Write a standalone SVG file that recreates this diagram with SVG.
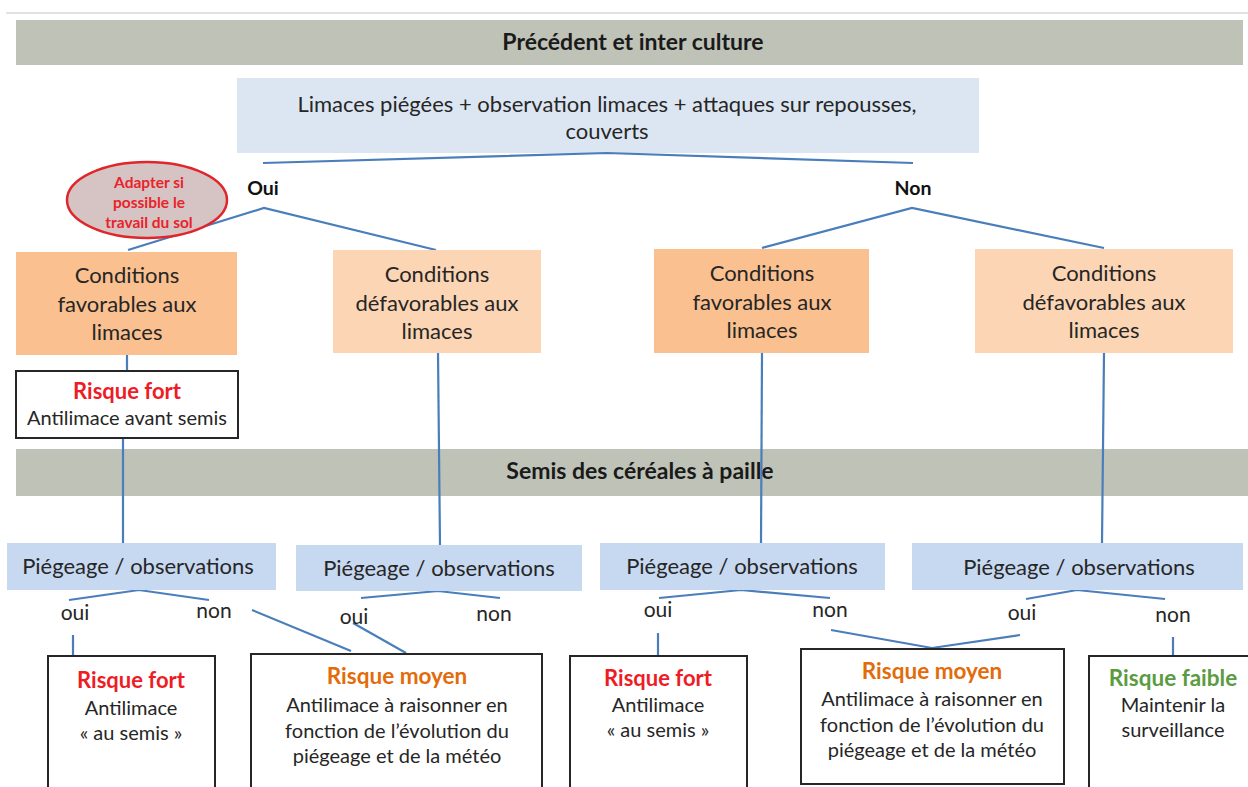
<svg xmlns="http://www.w3.org/2000/svg" width="1248" height="787" viewBox="0 0 1248 787">
<style>
text{font-family:Lato,"Open Sans","Liberation Sans",sans-serif;fill:#262626;text-anchor:middle}
.band{fill:#bfc2b7}
.bt{font-size:23px;font-weight:bold;fill:#1a1a1a}
.top{fill:#dce6f2}
.fav{fill:#fac08f}
.def{fill:#fcd5b4}
.pie{fill:#c6d9f1}
.res{fill:#ffffff;stroke:#262626;stroke-width:2}
.t22{font-size:22px}
.t20{font-size:20px}
.ob{font-size:19.5px;font-weight:bold;fill:#111}
.on{font-size:21px}
.red{fill:#ee1c25;font-weight:bold;font-size:22px}
.ora{fill:#e36c0a;font-weight:bold;font-size:22.5px}
.grn{fill:#5b9b42;font-weight:bold;font-size:22.5px}
.ell{font-size:15.5px;font-weight:bold;fill:#e8232a}
.c{fill:none;stroke:#4a7ebb;stroke-width:2.2}
</style>
<rect width="1248" height="787" fill="#ffffff"/>
<line x1="6" y1="13" x2="1248" y2="13" stroke="#d9d9d9" stroke-width="1.5"/>

<g id="band-precedent">
<rect class="band" x="16" y="20" width="1227" height="45"/>
<text class="bt" x="633" y="50">Précédent et inter culture</text>
</g>

<g id="observation">
<rect class="top" x="237" y="78" width="742" height="75"/>
<text class="t22" x="607" y="112">Limaces piégées + observation limaces + attaques sur repousses,</text>
<text class="t22" x="607" y="139">couverts</text>
</g>

<g id="band-semis">
<rect class="band" x="16" y="449" width="1232" height="47"/>
<text class="bt" x="640" y="479">Semis des céréales à paille</text>
</g>

<g id="connectors">
<path class="c" d="M263,163 L607,153 L913,163"/>
<path class="c" d="M128,250 L264,208 L436,250"/>
<path class="c" d="M762,248 L912,208 L1104,248"/>
<path class="c" d="M127,355 L127,371"/>
<path class="c" d="M123,438 L123,543"/>
<path class="c" d="M438,353 L440,545"/>
<path class="c" d="M762,353 L761,543"/>
<path class="c" d="M1104,353 L1102,543"/>
<path class="c" d="M69,600 L139,590 L209,600"/>
<path class="c" d="M73,635 L73,657"/>
<path class="c" d="M252,610 L351,651"/>
<path class="c" d="M361,598 L438,591 L500,598"/>
<path class="c" d="M353,623 L406,653"/>
<path class="c" d="M659,598 L741,590 L830,598"/>
<path class="c" d="M658,633 L658,655"/>
<path class="c" d="M831,630 L932,648 L1020,635"/>
<path class="c" d="M1026,599 L1077,590 L1165,599"/>
<path class="c" d="M1173,637 L1173,656"/>
</g>

<g id="label-oui"><text class="ob" x="263" y="195">Oui</text></g>
<g id="label-non"><text class="ob" x="913" y="195">Non</text></g>

<g id="adapter">
<ellipse cx="147" cy="200" rx="80" ry="38" fill="#d6c4c4" stroke="#e0262b" stroke-width="2.5"/>
<text class="ell" x="149" y="188">Adapter si</text>
<text class="ell" x="149" y="208">possible le</text>
<text class="ell" x="149" y="228">travail du sol</text>
</g>

<g id="oui-favorable">
<rect class="fav" x="16" y="252" width="221" height="103"/>
<text class="t22" x="127" y="283">Conditions</text>
<text class="t22" x="127" y="312">favorables aux</text>
<text class="t22" x="127" y="340">limaces</text>
</g>

<g id="oui-defavorable">
<rect class="def" x="333" y="250" width="208" height="103"/>
<text class="t22" x="437" y="282">Conditions</text>
<text class="t22" x="437" y="311">défavorables aux</text>
<text class="t22" x="437" y="339">limaces</text>
</g>

<g id="non-favorable">
<rect class="fav" x="654" y="249" width="215" height="104"/>
<text class="t22" x="762" y="281">Conditions</text>
<text class="t22" x="762" y="310">favorables aux</text>
<text class="t22" x="762" y="338">limaces</text>
</g>

<g id="non-defavorable">
<rect class="def" x="975" y="249" width="258" height="104"/>
<text class="t22" x="1104" y="281">Conditions</text>
<text class="t22" x="1104" y="310">défavorables aux</text>
<text class="t22" x="1104" y="338">limaces</text>
</g>

<g id="risque-avant-semis">
<rect class="res" x="16" y="371" width="222" height="67"/>
<text class="red" x="127" y="399">Risque fort</text>
<text class="t20" x="127" y="425">Antilimace  avant semis</text>
</g>

<g id="piegeage-1">
<rect class="pie" x="7" y="543" width="269" height="47"/>
<text class="t22" x="138" y="574">Piégeage / observations</text>
<text class="on" x="75" y="620">oui</text>
<text class="on" x="214" y="618">non</text>
</g>

<g id="piegeage-2">
<rect class="pie" x="296" y="545" width="286" height="46"/>
<text class="t22" x="439" y="576">Piégeage / observations</text>
<text class="on" x="354" y="624">oui</text>
<text class="on" x="494" y="621">non</text>
</g>

<g id="piegeage-3">
<rect class="pie" x="600" y="543" width="285" height="47"/>
<text class="t22" x="742" y="574">Piégeage / observations</text>
<text class="on" x="658" y="617">oui</text>
<text class="on" x="830" y="617">non</text>
</g>

<g id="piegeage-4">
<rect class="pie" x="912" y="543" width="331" height="47"/>
<text class="t22" x="1079" y="575">Piégeage / observations</text>
<text class="on" x="1022" y="620">oui</text>
<text class="on" x="1173" y="622">non</text>
</g>

<g id="risque-fort-1">
<rect class="res" x="48" y="656" width="167" height="150"/>
<text class="red" x="131" y="688">Risque fort</text>
<text class="t20" x="131" y="715">Antilimace</text>
<text class="t20" x="131" y="740">« au semis »</text>
</g>

<g id="risque-moyen-1">
<rect class="res" x="251" y="654" width="291" height="150"/>
<text class="ora" x="397" y="684">Risque moyen</text>
<text class="t20" x="397" y="712">Antilimace à raisonner en</text>
<text class="t20" x="397" y="738">fonction de l’évolution du</text>
<text class="t20" x="397" y="763">piégeage et de la météo</text>
</g>

<g id="risque-fort-2">
<rect class="res" x="570" y="656" width="177" height="150"/>
<text class="red" x="658" y="686">Risque fort</text>
<text class="t20" x="658" y="712">Antilimace</text>
<text class="t20" x="658" y="737">« au semis »</text>
</g>

<g id="risque-moyen-2">
<rect class="res" x="801" y="649" width="263" height="135"/>
<text class="ora" x="932" y="679">Risque moyen</text>
<text class="t20" x="932" y="706">Antilimace à raisonner en</text>
<text class="t20" x="932" y="732">fonction de l’évolution du</text>
<text class="t20" x="932" y="757">piégeage et de la météo</text>
</g>

<g id="risque-faible">
<rect class="res" x="1089" y="656" width="180" height="150"/>
<text class="grn" x="1173" y="686">Risque faible</text>
<text class="t20" x="1173" y="712">Maintenir la</text>
<text class="t20" x="1173" y="737">surveillance</text>
</g>
</svg>
